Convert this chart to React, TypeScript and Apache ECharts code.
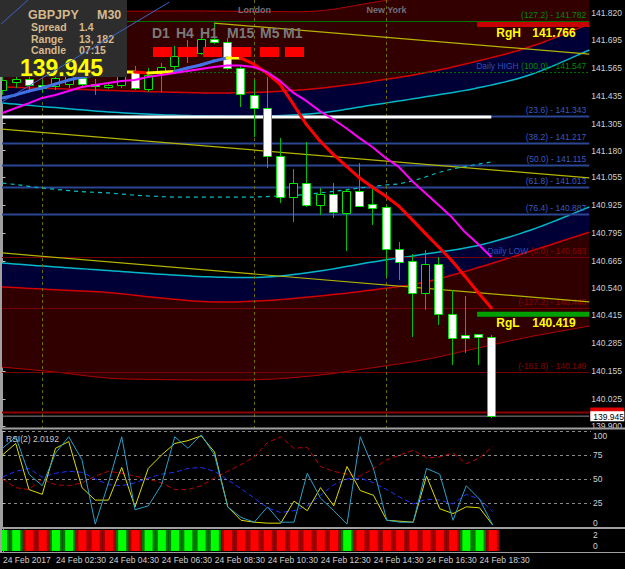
import React, { useEffect, useRef } from 'react';
import * as echarts from 'echarts';

// ---------------- data ----------------
const symbolName = 'GBPJPY';
const timeframe = 'M30';
const spreadText = '1.4';
const rangeText = '13, 182';
const candleLeft = '07:15';
const bidPrice = 139.945;
const askPrice = 139.962;
const rsiTitle = 'RSI(2) 2.0192';

const candleTimes = ['00:30','01:00','01:30','02:00','02:30','03:00','03:30','04:00','04:30','05:00','05:30','06:00','06:30','07:00','07:30','08:00','08:30','09:00','09:30','10:00','10:30','11:00','11:30','12:00','12:30','13:00','13:30','14:00','14:30','15:00','15:30','16:00','16:30','17:00','17:30','18:00','18:30','19:00'];
const opens = [141.462,141.499,141.513,141.485,141.480,141.490,141.518,141.490,141.480,141.485,141.546,141.467,141.546,141.574,141.620,141.634,141.699,141.685,141.564,141.439,141.378,141.155,140.964,141.029,140.927,140.978,140.890,140.992,140.932,140.918,140.722,140.667,140.518,140.653,140.420,140.322,140.327,140.313];
const closes = [141.508,141.513,141.485,141.471,141.518,141.527,141.490,141.480,141.485,141.541,141.471,141.532,141.569,141.620,141.634,141.699,141.685,141.564,141.443,141.378,141.155,140.964,141.029,140.927,140.978,140.894,140.992,140.922,140.913,140.722,140.662,140.518,140.653,140.420,140.308,140.308,140.313,139.945];
const lows = [141.439,141.471,141.462,141.448,141.462,141.471,141.471,141.439,141.467,141.471,141.462,141.453,141.453,141.541,141.587,141.625,141.676,141.555,141.383,141.243,141.099,140.936,140.848,140.918,140.880,140.867,140.713,140.918,140.834,140.592,140.578,140.313,140.439,140.369,140.183,140.239,140.183,139.936];
const highs = [141.532,141.546,141.536,141.508,141.546,141.532,141.527,141.513,141.499,141.555,141.574,141.564,141.587,141.667,141.694,141.718,141.773,141.704,141.574,141.508,141.522,141.239,141.094,141.220,141.006,141.029,141.000,141.122,141.020,140.925,140.755,140.699,140.718,140.685,140.532,140.504,140.327,140.322];

const trendMA = [141.425,141.439,141.457,141.471,141.490,141.508,141.522,141.532,141.541,141.546,141.546,141.541,141.544,141.548,141.564,141.578,141.597,141.611,141.611,141.583,141.541,141.489,141.397,141.302,141.227,141.165,141.109,141.054,141.010,140.969,140.922,140.859,140.795,140.733,140.669,140.596,140.520,140.448];
const slowMA = [141.355,141.378,141.401,141.425,141.439,141.457,141.476,141.485,141.494,141.504,141.508,141.522,141.532,141.541,141.550,141.560,141.569,141.576,141.576,141.569,141.546,141.504,141.450,141.411,141.365,141.327,141.285,141.239,141.197,141.146,141.104,141.039,140.983,140.927,140.871,140.801,140.746,140.685];
const dailyMA = [141.029,141.022,141.014,141.006,141.000,140.994,140.989,140.986,140.983,140.978,140.973,140.969,140.966,140.964,140.964,140.964,140.964,140.964,140.964,140.964,140.966,140.969,140.971,140.976,140.983,140.990,140.997,141.006,141.013,141.020,141.025,141.039,141.057,141.078,141.094,141.106,141.117,141.127];

const rsiFast = [75,87,39,34,82,89,41,28,28,62,21,61,75,87,90,95,78,21,7,5,4,4,27,17,41,22,63,38,33,7,6,5,53,19,14,21,20,2];
const rsiTeal = [82,94,55,43,77,94,70,3,46,94,18,22,44,94,82,96,75,21,10,5,21,5,5,56,30,17,3,94,61,7,5,5,61,55,7,43,29,2];
const rsiBlue = [52,58,61,52,56,58,57,50,44,43,46,51,55,57,61,62,58,49,40,30,20,15,17,22,33,44,50,51,46,39,31,24,29,28,24,34,29,16];
const rsiRed = [50,41,39,50,44,43,46,53,58,56,53,50,46,39,39,43,51,58,65,73,88,94,82,83,63,58,55,53,61,70,75,80,72,73,77,66,72,84];
const histSignal = [1,1,0,0,1,1,0,0,0,1,0,1,1,1,1,1,1,0,0,0,0,0,0,0,0,0,1,0,0,0,0,0,0,0,0,1,1,0];

const priceTicks = [141.820,141.695,141.565,141.435,141.305,141.180,141.055,140.925,140.795,140.665,140.540,140.415,140.285,140.155,140.025,139.900];
const timeTickIdx = [0,4,8,12,16,20,24,28,32,36];
const timeTickLabels = ['24 Feb 2017','24 Feb 02:30','24 Feb 04:30','24 Feb 06:30','24 Feb 08:30','24 Feb 10:30','24 Feb 12:30','24 Feb 14:30','24 Feb 16:30','24 Feb 18:30'];

const fibPrices = [141.782,141.547,141.343,141.217,141.115,141.013,140.887,140.683,140.448,140.149];
const fibRatios = ['127.2','100.0','23.6','38.2','50.0','61.8','76.4','0.0','-127.2','-161.8'];
const fibTags = ['','Daily HIGH','','','','','','Daily LOW','',''];
const fibKinds = ['g','g','b','b','b','b','b','r','r','r'];

const chanIdx = [-0.04,4,8,12,16,20,24,28,32,36,40,44.42];
const upperEdge = [141.825,141.825,141.827,141.829,141.829,141.827,141.830,141.869,141.908,141.948,141.987,142.029];
const upperMid = [141.476,141.468,141.460,141.453,141.448,141.453,141.470,141.502,141.542,141.597,141.664,141.769];
const upperInner = [141.401,141.380,141.360,141.347,141.341,141.341,141.355,141.392,141.430,141.472,141.534,141.648];
const lowerInner = [140.657,140.639,140.622,140.605,140.592,140.592,140.620,140.662,140.699,140.739,140.811,140.918];
const lowerMid = [140.546,140.533,140.520,140.494,140.476,140.483,140.504,140.532,140.569,140.636,140.713,140.801];
const lowerEdge = [140.173,140.150,140.122,140.115,140.113,140.116,140.136,140.170,140.208,140.262,140.315,140.364];

const yellowTop = { t: [16, 44.42], p: [141.773, 141.629] };
const yellowMid = { t: [-0.04, 44.42], p: [141.280, 141.053] };
const yellowLow = { t: [-0.04, 44.42], p: [140.704, 140.476] };
const blueLineA = { t: [-0.04, 12.64], p: [141.406, 141.871] };
const blueLineB = { t: [-0.19, 1.92], p: [141.764, 141.880] };
const supportLevel = 141.336;
const supportEnd = '19:00';

const sessionStarts = ['02:00', '10:00', '15:00'];
const sessionNames = ['', 'London', 'New York'];

const regNames = ['RgH', 'RgL'];
const regPrices = [141.766, 140.419];
const regStart = '18:30';

const tfNames = ['D1', 'H4', 'H1', 'M15', 'M5', 'M1'];

// ---------------- layout constants ----------------
const X_MIN = -0.0377;
const X_MAX = 44.415;
const Y_MIN = 139.8898;
const Y_MAX = 141.8805;
const FONT = '"Liberation Sans", Arial, sans-serif';

function catmull(pts: number[][]): number[][] {
  const out: number[][] = [];
  const n = pts.length;
  for (let i = 0; i < n - 1; i++) {
    const p0 = pts[Math.max(0, i - 1)], p1 = pts[i], p2 = pts[i + 1], p3 = pts[Math.min(n - 1, i + 2)];
    for (let s = 0; s < 10; s++) {
      const t = s / 10, t2 = t * t, t3 = t2 * t;
      const f = (a: number, b: number, c: number, d: number) =>
        0.5 * (2 * b + (-a + c) * t + (2 * a - 5 * b + 4 * c - d) * t2 + (-a + 3 * b - 3 * c + d) * t3);
      out.push([f(p0[0], p1[0], p2[0], p3[0]), f(p0[1], p1[1], p2[1], p3[1])]);
    }
  }
  out.push(pts[n - 1]);
  return out;
}

function buildOption(): any {
  const idx = candleTimes.map((_, i) => i);
  const noAxis = { type: 'value', min: X_MIN, max: X_MAX, axisLine: { show: false }, axisTick: { show: false }, axisLabel: { show: false }, splitLine: { show: false } };

  const pairs = (xs: number[], ys: number[]) => xs.map((x, k) => [x, ys[k]]);
  const line = (data: any[], color: string, width: number, extra: any = {}) => ({
    type: 'line', xAxisIndex: 0, yAxisIndex: 0, data, symbol: 'none', silent: true,
    smooth: extra.smooth ?? false, z: extra.z ?? 3,
    lineStyle: { color, width, type: extra.type ?? 'solid', opacity: extra.opacity ?? 1 },
  });

  const series: any[] = [
    // regression channels (bands + curves)
    {
      type: 'custom', xAxisIndex: 0, yAxisIndex: 0, z: 1, silent: true, clip: true,
      data: [[0, 141]],
      renderItem: (params: any, api: any) => {
        const cs = params.coordSys;
        const curve = (arr: number[]) => catmull(chanIdx.map((t, k) => api.coord([t, arr[k]])));
        const clampTop = (pts: number[][]) => pts.map(p => [p[0], Math.max(cs.y, p[1])]);
        const uE = curve(upperEdge), uM = curve(upperMid), uI = curve(upperInner);
        const lI = curve(lowerInner), lM = curve(lowerMid), lE = curve(lowerEdge);
        const poly = (a: number[][], b: number[][], fill: string) => ({
          type: 'polygon', shape: { points: clampTop(a).concat(clampTop(b).slice().reverse()) }, style: { fill },
        });
        const pl = (a: number[][], stroke: string, w: number) => ({
          type: 'polyline', shape: { points: a }, style: { stroke, lineWidth: w, fill: 'none' },
        });
        return {
          type: 'group', children: [
            poly(uE, uM, '#330000'),
            poly(uM, uI, '#000036'),
            poly(lI, lM, '#000036'),
            poly(lM, lE, '#300000'),
            pl(uE, '#b40000', 1),
            pl(uM, '#d20000', 1.5),
            pl(uI, '#00b8cc', 1.5),
            pl(lI, '#00b8cc', 1.5),
            pl(lM, '#d20000', 1.5),
            pl(lE, '#b40000', 1),
          ],
        };
      },
    },
    // fib levels
    {
      type: 'custom', xAxisIndex: 0, yAxisIndex: 0, z: 2, silent: true,
      data: fibPrices.map((p, k) => [k, p]),
      renderItem: (params: any, api: any) => {
        const k = params.dataIndex;
        const cs = params.coordSys;
        const y = Math.round(api.coord([0, api.value(1)])[1]) + 0.5;
        const kind = fibKinds[k];
        const lc = kind === 'g' ? '#007000' : kind === 'r' ? '#780000' : '#2a4694';
        const tc = kind === 'g' ? '#008c00' : kind === 'r' ? '#8c0000' : '#3a5ac4';
        const body = '(' + fibRatios[k] + ') - ' + fibPrices[k].toFixed(3);
        const text = fibTags[k] ? '{t|' + fibTags[k] + '} {v|' + body + '}' : '{v|' + body + '}';
        return {
          type: 'group', children: [
            { type: 'line', shape: { x1: cs.x, y1: y, x2: cs.x + cs.width, y2: y }, style: { stroke: lc, lineWidth: kind === 'b' ? 2 : 1, lineDash: k === 1 ? [2, 2] : null } },
            { type: 'text', x: cs.x + cs.width - 3, y: y - 2, style: { text, align: 'right', verticalAlign: 'bottom', font: '8.5px ' + FONT, rich: { t: { fill: '#3050b4', font: '8.5px ' + FONT }, v: { fill: tc, font: '8.5px ' + FONT } } } },
          ],
        };
      },
    },
    // session separators
    {
      type: 'custom', xAxisIndex: 0, yAxisIndex: 0, z: 3, silent: true,
      data: sessionStarts.map((s, k) => [candleTimes.indexOf(s), k]),
      renderItem: (params: any, api: any) => {
        const cs = params.coordSys;
        const x = Math.round(api.coord([api.value(0), Y_MAX])[0]) + 0.5;
        const children: any[] = [
          { type: 'line', shape: { x1: x, y1: cs.y, x2: x, y2: cs.y + cs.height }, style: { stroke: '#6e6e00', lineWidth: 1, lineDash: [3, 3] } },
        ];
        const name = sessionNames[params.dataIndex];
        if (name) children.push({ type: 'text', x, y: cs.y + 10, style: { text: name, align: 'center', verticalAlign: 'middle', font: 'bold 9px ' + FONT, fill: '#70707a' } });
        return { type: 'group', children };
      },
    },
    line(pairs(yellowTop.t, yellowTop.p), '#b4b400', 1.2, { z: 3 }),
    line(pairs(yellowMid.t, yellowMid.p), '#b4b400', 1.2, { z: 3 }),
    line(pairs(yellowLow.t, yellowLow.p), '#b4b400', 1.2, { z: 3 }),
    line(pairs(idx, dailyMA), '#00c0c8', 1.2, { type: [4, 4], z: 3 }),
    line([[X_MIN, supportLevel], [candleTimes.indexOf(supportEnd), supportLevel]], '#ffffff', 3, { z: 4 }),
    line([[X_MIN, askPrice], [X_MAX, askPrice]], '#8c0000', 2, { z: 3 }),
    line([[X_MIN, bidPrice], [X_MAX, bidPrice]], '#8a8a8a', 1, { z: 3 }),
    // candles
    {
      type: 'custom', xAxisIndex: 0, yAxisIndex: 0, z: 5, silent: true,
      data: idx.map(i => [i, opens[i], closes[i], lows[i], highs[i]]),
      encode: { x: 0, y: [1, 2, 3, 4] },
      renderItem: (params: any, api: any) => {
        const i = api.value(0), o = api.value(1), c = api.value(2), l = api.value(3), h = api.value(4);
        const po = api.coord([i, o]), pc = api.coord([i, c]), pl = api.coord([i, l]), ph = api.coord([i, h]);
        const xc = Math.round(po[0]) + 0.5;
        const top = Math.round(Math.min(po[1], pc[1])) + 0.5;
        const bh = Math.max(2, Math.round(Math.abs(po[1] - pc[1])));
        const up = c > o;
        return {
          type: 'group', children: [
            { type: 'line', shape: { x1: xc, y1: ph[1], x2: xc, y2: pl[1] }, style: { stroke: '#00c000', lineWidth: 1 } },
            { type: 'rect', shape: { x: xc - 4, y: top, width: 8, height: bh }, style: { fill: up ? '#000000' : '#ffffff', stroke: '#00e600', lineWidth: 1 } },
          ],
        };
      },
    },
    // coloured trend MA
    {
      type: 'custom', xAxisIndex: 0, yAxisIndex: 0, z: 6, silent: true,
      data: trendMA.slice(1).map((v, k) => [k, trendMA[k], k + 1, v]),
      encode: { x: [0, 2], y: [1, 3] },
      renderItem: (params: any, api: any) => {
        const a = api.coord([api.value(0), api.value(1)]);
        const b = api.coord([api.value(2), api.value(3)]);
        const d = api.value(3) - api.value(1);
        const color = Math.abs(d) <= 0.0045 ? '#ffff00' : d > 0 ? '#4272e6' : '#ff0000';
        return { type: 'line', shape: { x1: a[0], y1: a[1], x2: b[0], y2: b[1] }, style: { stroke: color, lineWidth: 3, lineCap: 'round' } };
      },
    },
    line(pairs(idx, slowMA), '#ff00ff', 2, { z: 6 }),
    // regression levels
    {
      type: 'custom', xAxisIndex: 0, yAxisIndex: 0, z: 7, silent: true,
      data: regPrices.map((p, k) => [candleTimes.indexOf(regStart), p, k]),
      renderItem: (params: any, api: any) => {
        const cs = params.coordSys;
        const k = params.dataIndex;
        const p = api.coord([api.value(0), api.value(1)]);
        const right = cs.x + cs.width;
        return {
          type: 'group', children: [
            { type: 'line', shape: { x1: p[0] - 1, y1: p[1], x2: right, y2: p[1] }, style: { stroke: k === 0 ? '#c80000' : '#00a000', lineWidth: 5 } },
            { type: 'text', x: right - 93, y: p[1] + 8.5, style: { text: regNames[k], align: 'left', verticalAlign: 'middle', font: 'bold 12px ' + FONT, fill: '#ffff00' } },
            { type: 'text', x: right - 57, y: p[1] + 8.5, style: { text: regPrices[k].toFixed(3), align: 'left', verticalAlign: 'middle', font: 'bold 12px ' + FONT, fill: '#ffff00' } },
          ],
        };
      },
    },
    // thin blue drawing lines (drawn above info box)
    line(pairs(blueLineA.t, blueLineA.p), '#3c64c8', 1, { z: 60 }),
    line(pairs(blueLineB.t, blueLineB.p), '#3c64c8', 1, { z: 60 }),
    // price tags on axis
    {
      type: 'custom', xAxisIndex: 0, yAxisIndex: 0, z: 10, silent: true, clip: false,
      data: [[X_MAX, askPrice, 0], [X_MAX, bidPrice, 1]],
      renderItem: (params: any, api: any) => {
        const p = api.coord([api.value(0), api.value(1)]);
        const isBid = params.dataIndex === 1;
        const children: any[] = [
          { type: 'rect', shape: { x: p[0] + 1, y: p[1] - 5, width: 34, height: 10 }, style: { fill: isBid ? '#ffffff' : '#e00000' } },
        ];
        if (isBid) children.push({ type: 'text', x: p[0] + 4, y: p[1] + 0.5, style: { text: api.value(1).toFixed(3), align: 'left', verticalAlign: 'middle', font: '8.5px ' + FONT, fill: '#000000' } });
        return { type: 'group', children };
      },
    },
    // RSI panel
    { type: 'line', xAxisIndex: 1, yAxisIndex: 1, data: pairs(idx, rsiRed), symbol: 'none', silent: true, lineStyle: { color: '#c00000', width: 1, type: [5, 3] }, z: 3 },
    { type: 'line', xAxisIndex: 1, yAxisIndex: 1, data: pairs(idx, rsiBlue), symbol: 'none', silent: true, lineStyle: { color: '#1e32ff', width: 1, type: [5, 3] }, z: 3 },
    { type: 'line', xAxisIndex: 1, yAxisIndex: 1, data: pairs(idx, rsiFast), symbol: 'none', silent: true, lineStyle: { color: '#dcdc00', width: 1 }, z: 4 },
    { type: 'line', xAxisIndex: 1, yAxisIndex: 1, data: pairs(idx, rsiTeal), symbol: 'none', silent: true, lineStyle: { color: '#2aa0c8', width: 1 }, z: 5 },
    // histogram panel
    {
      type: 'custom', xAxisIndex: 2, yAxisIndex: 2, z: 3, silent: true,
      data: idx.map(i => [i, histSignal[i]]),
      renderItem: (params: any, api: any) => {
        const cs = params.coordSys;
        const x = api.coord([api.value(0), 0])[0];
        const g = api.value(1) === 1;
        const w = 13.25;
        return {
          type: 'group', children: [
            { type: 'rect', shape: { x: x - w / 2, y: cs.y + 1, width: w, height: cs.height - 2 }, style: { fill: g ? '#007800' : '#a00000' } },
            { type: 'rect', shape: { x: x - 4, y: cs.y + 1, width: 8, height: cs.height - 2 }, style: { fill: g ? '#00ff00' : '#ff0000' } },
          ],
        };
      },
    },
  ];

  const labelColor = '#d0d0d0';
  const tan = '#d6b98c';
  const graphic: any[] = [
    // panel separators
    { type: 'line', z: 40, shape: { x1: 0, y1: 428.5, x2: 625, y2: 428.5 }, style: { stroke: '#a0a0a0', lineWidth: 2 } },
    { type: 'line', z: 40, shape: { x1: 0, y1: 528, x2: 625, y2: 528 }, style: { stroke: '#a0a0a0', lineWidth: 2 } },
    { type: 'line', z: 40, shape: { x1: 0, y1: 552.5, x2: 625, y2: 552.5 }, style: { stroke: '#a0a0a0', lineWidth: 1 } },
    { type: 'line', z: 40, shape: { x1: 1, y1: 0, x2: 1, y2: 553 }, style: { stroke: '#a0a0a0', lineWidth: 2 } },
    // info box
    { type: 'rect', z: 50, shape: { x: 0, y: 0, width: 127, height: 77 }, style: { fill: '#2d2d2d' } },
    { type: 'text', z: 51, x: 28, y: 15, style: { text: symbolName, font: 'bold 12.5px ' + FONT, fill: tan, verticalAlign: 'middle' } },
    { type: 'text', z: 51, x: 97, y: 15, style: { text: timeframe, font: 'bold 12.5px ' + FONT, fill: tan, verticalAlign: 'middle' } },
    { type: 'text', z: 51, x: 31, y: 27, style: { text: 'Spread', font: 'bold 10.5px ' + FONT, fill: tan, verticalAlign: 'middle' } },
    { type: 'text', z: 51, x: 79, y: 27, style: { text: spreadText, font: 'bold 10.5px ' + FONT, fill: tan, verticalAlign: 'middle' } },
    { type: 'text', z: 51, x: 31, y: 38.5, style: { text: 'Range', font: 'bold 10.5px ' + FONT, fill: tan, verticalAlign: 'middle' } },
    { type: 'text', z: 51, x: 79, y: 38.5, style: { text: rangeText, font: 'bold 10.5px ' + FONT, fill: tan, verticalAlign: 'middle' } },
    { type: 'text', z: 51, x: 31, y: 50, style: { text: 'Candle', font: 'bold 10.5px ' + FONT, fill: tan, verticalAlign: 'middle' } },
    { type: 'text', z: 51, x: 79, y: 50, style: { text: candleLeft, font: 'bold 10.5px ' + FONT, fill: tan, verticalAlign: 'middle' } },
    { type: 'text', z: 51, x: 20, y: 68, style: { text: bidPrice.toFixed(3), font: 'bold 23px ' + FONT, fill: '#ffff00', verticalAlign: 'middle' } },
    // RSI title
    { type: 'text', z: 51, x: 6, y: 438.5, style: { text: rsiTitle, font: '8.5px ' + FONT, fill: '#c8c8c8', verticalAlign: 'middle' } },
  ];
  const tfX = [152, 176, 200, 227, 260, 283];
  const rectX = [153, 178, 203, 232, 260, 285];
  tfNames.forEach((n, k) => {
    graphic.push({ type: 'text', z: 51, x: tfX[k], y: 32.5, style: { text: n, font: 'bold 14px ' + FONT, fill: '#7a7a7a', verticalAlign: 'middle' } });
    graphic.push({ type: 'rect', z: 51, shape: { x: rectX[k], y: 47, width: 19, height: 10 }, style: { fill: '#ff0000' } });
  });

  return {
    animation: false,
    backgroundColor: '#000000',
    textStyle: { fontFamily: FONT },
    grid: [
      { left: 2, top: 0, width: 589, height: 428, show: false },
      { left: 2, top: 431, width: 589, height: 96, show: false },
      { left: 2, top: 529, width: 589, height: 23, show: false },
    ],
    xAxis: [
      { ...noAxis, gridIndex: 0 },
      { ...noAxis, gridIndex: 1 },
      {
        type: 'value', gridIndex: 2, min: X_MIN, max: X_MAX, position: 'bottom',
        axisLine: { show: false },
        axisTick: { show: true, customValues: timeTickIdx, length: 3, lineStyle: { color: '#a0a0a0' } },
        axisLabel: {
          show: true, customValues: timeTickIdx, align: 'left', margin: 3, color: labelColor, fontSize: 8.5, fontFamily: FONT,
          formatter: (v: number) => {
            let best = 0;
            timeTickIdx.forEach((t, k) => { if (Math.abs(t - v) < Math.abs(timeTickIdx[best] - v)) best = k; });
            return timeTickLabels[best];
          },
        },
        splitLine: { show: false },
      },
    ],
    yAxis: [
      {
        type: 'value', gridIndex: 0, position: 'right', min: Y_MIN, max: Y_MAX,
        axisLine: { show: true, lineStyle: { color: '#a0a0a0' } },
        axisTick: { show: true, customValues: priceTicks, length: 3, lineStyle: { color: '#c0c0c0' } },
        axisLabel: { customValues: priceTicks, formatter: (v: number) => v.toFixed(3), color: labelColor, fontSize: 8.5, fontFamily: FONT, margin: 2 },
        splitLine: { show: false },
      },
      {
        type: 'value', gridIndex: 1, position: 'right', min: 0, max: 100, interval: 25,
        axisLine: { show: true, lineStyle: { color: '#a0a0a0' } },
        axisTick: { show: true, length: 3, lineStyle: { color: '#c0c0c0' } },
        axisLabel: { color: labelColor, fontSize: 8.5, fontFamily: FONT, margin: 2, verticalAlignMaxLabel: 'top', verticalAlignMinLabel: 'bottom' },
        splitLine: { show: true, lineStyle: { color: '#8a8a8a', type: [3, 3], width: 1 } },
      },
      {
        type: 'value', gridIndex: 2, position: 'right', min: -1.09, max: 3.09,
        axisLine: { show: true, lineStyle: { color: '#a0a0a0' } },
        axisTick: { show: true, customValues: [0, 2], length: 3, lineStyle: { color: '#c0c0c0' } },
        axisLabel: { customValues: [0, 2], color: labelColor, fontSize: 8.5, fontFamily: FONT, margin: 2 },
        splitLine: { show: false },
      },
    ],
    graphic,
    series,
  };
}

export default function App() {
  const ref = useRef<HTMLDivElement>(null);
  useEffect(() => {
    if (!ref.current) return;
    const chart = echarts.init(ref.current, undefined, { renderer: 'svg' });
    chart.setOption(buildOption());
    return () => chart.dispose();
  }, []);
  return <div ref={ref} style={{ position: 'fixed', left: 0, top: 0, width: 625, height: 569, background: '#000' }} />;
}
